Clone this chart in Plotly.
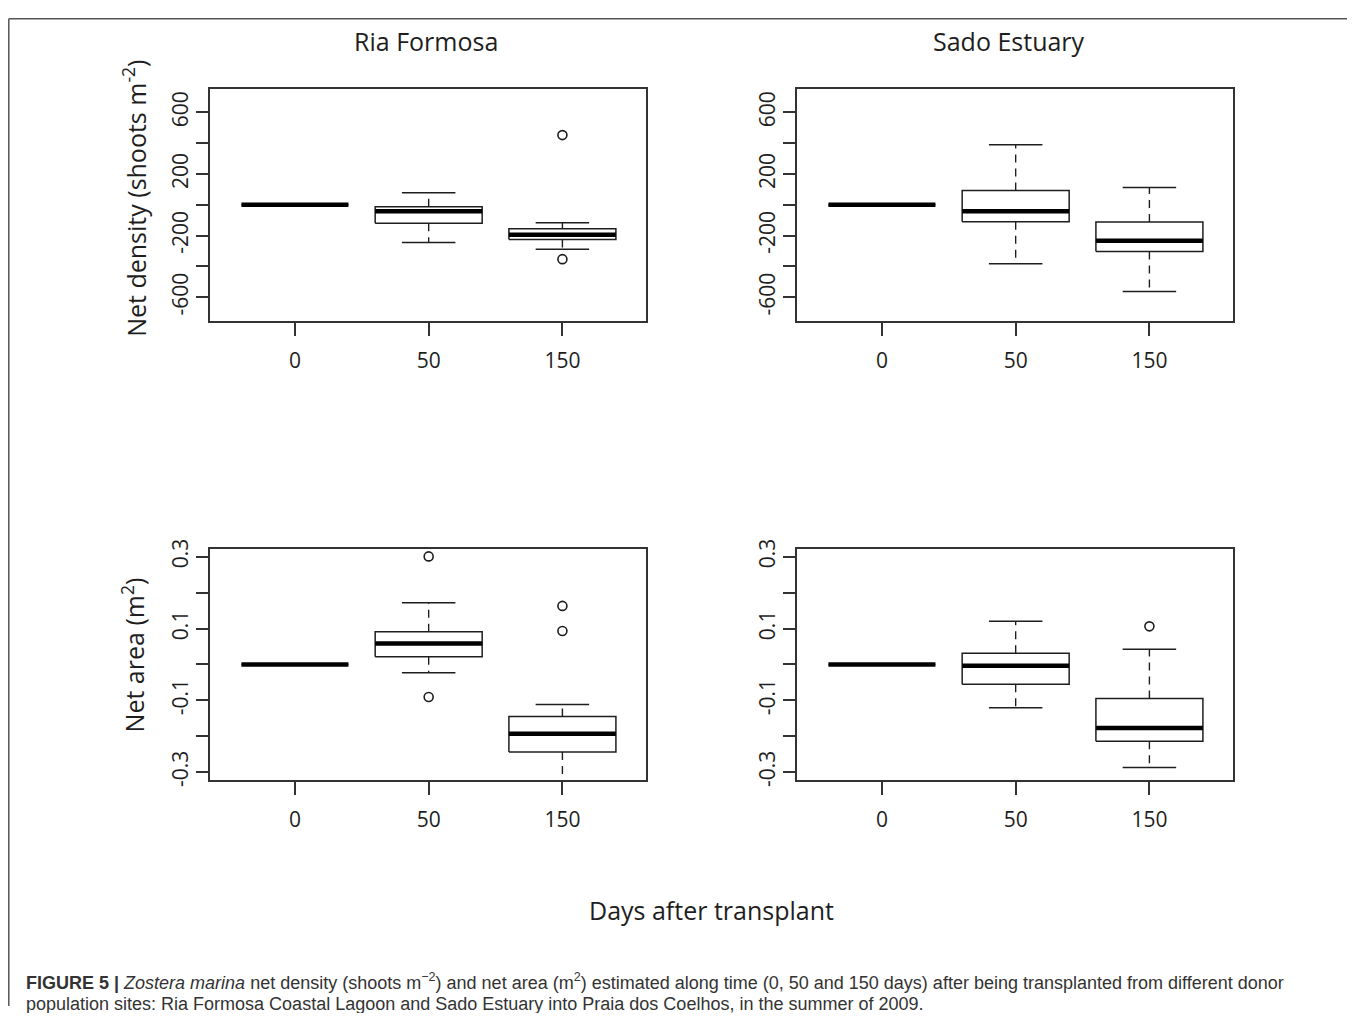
import plotly.graph_objects as go

# ---------------- data ----------------
days = ["0", "50", "150"]
positions = [1, 2, 3]

# Net density (shoots m-2) — Ria Formosa
rf_den_low = [0, -245, -288]
rf_den_q1 = [0, -119, -225]
rf_den_med = [0, -41, -195]
rf_den_q3 = [0, -13, -156]
rf_den_high = [0, 78, -117]
rf_den_out_x = [3, 3]
rf_den_out_y = [453, -353]

# Net density (shoots m-2) — Sado Estuary
se_den_low = [0, -383, -563]
se_den_q1 = [0, -110, -303]
se_den_med = [0, -41, -234]
se_den_q3 = [0, 93, -112]
se_den_high = [0, 390, 113]
se_den_out_x = []
se_den_out_y = []

# Net area (m2) — Ria Formosa
rf_area_low = [0, -0.023, -0.36]
rf_area_q1 = [0, 0.021, -0.244]
rf_area_med = [0, 0.058, -0.193]
rf_area_q3 = [0, 0.091, -0.145]
rf_area_high = [0, 0.172, -0.112]
rf_area_out_x = [2, 2, 3, 3]
rf_area_out_y = [0.301, -0.091, 0.163, 0.093]

# Net area (m2) — Sado Estuary
se_area_low = [0, -0.121, -0.287]
se_area_q1 = [0, -0.055, -0.214]
se_area_med = [0, -0.004, -0.177]
se_area_q3 = [0, 0.031, -0.095]
se_area_high = [0, 0.120, 0.042]
se_area_out_x = [3]
se_area_out_y = [0.106]

den_tickvals = [-600, -400, -200, 0, 200, 400, 600]
den_ticktext = ["-600", "", "-200", "", "200", "", "600"]
area_tickvals = [-0.3, -0.2, -0.1, 0, 0.1, 0.2, 0.3]
area_ticktext = ["-0.3", "", "-0.1", "", "0.1", "", "0.3"]

# ---------------- styling ----------------
INK = "#1e1e1e"
FRAME = "#333333"
FONT = "Open Sans"
PAGE_MARGIN = 8          # default body margin of the html page
W = 1355 - 2 * PAGE_MARGIN
H = 1021 - 2 * PAGE_MARGIN
Y_OFF = 17.0             # observed vertical offset of the figure in the page shot
Y_SCALE = 0.984          # observed vertical scale of the page shot
BOXHALF = 0.4
CAPHALF = 0.2


def px_x(p):
    return (p - PAGE_MARGIN) / W


def px_y(p):
    f = (p - Y_OFF) / Y_SCALE
    f = min(max(f, 0.8), H)
    return 1 - f / H


fig = go.Figure()


def add_panel(xa, ya, low, q1, med, q3, high, out_x, out_y):
    bx, by, mx, my, wx, wy, cx, cy = [], [], [], [], [], [], [], []
    for p, lo, a, m, b, hi in zip(positions, low, q1, med, q3, high):
        bx += [p - BOXHALF, p + BOXHALF, p + BOXHALF, p - BOXHALF, p - BOXHALF, None]
        by += [a, a, b, b, a, None]
        mx += [p - BOXHALF, p + BOXHALF, None]
        my += [m, m, None]
        if hi > b:
            wx += [p, p, None]
            wy += [b, hi, None]
        if lo < a:
            wx += [p, p, None]
            wy += [a, lo, None]
        cx += [p - CAPHALF, p + CAPHALF, None, p - CAPHALF, p + CAPHALF, None]
        cy += [hi, hi, None, lo, lo, None]
    common = dict(xaxis=xa, yaxis=ya, mode="lines", hoverinfo="skip", showlegend=False)
    fig.add_trace(go.Scatter(x=wx, y=wy, line=dict(color=INK, width=1.4, dash="8px,6px"), **common))
    fig.add_trace(go.Scatter(x=cx, y=cy, line=dict(color=INK, width=1.5), **common))
    fig.add_trace(go.Scatter(x=bx, y=by, fill="toself", fillcolor="white",
                             line=dict(color=INK, width=1.5), **common))
    fig.add_trace(go.Scatter(x=mx, y=my, line=dict(color="#000000", width=4.5), **common))
    if out_x:
        fig.add_trace(go.Scatter(x=out_x, y=out_y, xaxis=xa, yaxis=ya, mode="markers",
                                 marker=dict(symbol="circle-open", size=9, color=INK,
                                             line=dict(width=1.6, color=INK)),
                                 hoverinfo="skip", showlegend=False))


add_panel("x", "y", rf_den_low, rf_den_q1, rf_den_med, rf_den_q3, rf_den_high, rf_den_out_x, rf_den_out_y)
add_panel("x2", "y2", se_den_low, se_den_q1, se_den_med, se_den_q3, se_den_high, se_den_out_x, se_den_out_y)
add_panel("x3", "y3", rf_area_low, rf_area_q1, rf_area_med, rf_area_q3, rf_area_high, rf_area_out_x, rf_area_out_y)
add_panel("x4", "y4", se_area_low, se_area_q1, se_area_med, se_area_q3, se_area_high, se_area_out_x, se_area_out_y)

left_dom = [px_x(210), px_x(646)]
right_dom = [px_x(797), px_x(1233)]
top_dom = [px_y(320), px_y(88)]
bot_dom = [px_y(780), px_y(548)]

xcommon = dict(range=[0.365, 3.625], tickmode="array", tickvals=positions, ticktext=days,
               showline=True, mirror=True, linecolor=FRAME, linewidth=1.6,
               ticks="outside", ticklen=13, tickwidth=1.5, tickcolor=FRAME,
               showgrid=False, zeroline=False, ticklabelstandoff=7,
               tickfont=dict(family=FONT, size=21, color=INK), fixedrange=True)
ycommon = dict(showline=True, mirror=True, linecolor=FRAME, linewidth=1.6,
               ticks="outside", ticklen=12, tickwidth=1.5, tickcolor=FRAME,
               showgrid=False, zeroline=False, tickangle=-90, tickmode="array",
               tickfont=dict(family=FONT, size=21, color=INK), fixedrange=True)

fig.update_layout(
    width=W, height=H,
    margin=dict(l=0, r=0, t=0, b=0),
    paper_bgcolor="white", plot_bgcolor="white",
    xaxis=dict(domain=left_dom, anchor="y", **xcommon),
    yaxis=dict(domain=top_dom, anchor="x", range=[-753, 753], tickvals=den_tickvals,
               ticktext=den_ticktext, **ycommon),
    xaxis2=dict(domain=right_dom, anchor="y2", **xcommon),
    yaxis2=dict(domain=top_dom, anchor="x2", range=[-753, 753], tickvals=den_tickvals,
                ticktext=den_ticktext, **ycommon),
    xaxis3=dict(domain=left_dom, anchor="y3", **xcommon),
    yaxis3=dict(domain=bot_dom, anchor="x3", range=[-0.323, 0.323], tickvals=area_tickvals,
                ticktext=area_ticktext, **ycommon),
    xaxis4=dict(domain=right_dom, anchor="y4", **xcommon),
    yaxis4=dict(domain=bot_dom, anchor="x4", range=[-0.323, 0.323], tickvals=area_tickvals,
                ticktext=area_ticktext, **ycommon),
)

label_font = dict(family=FONT, size=25, color=INK)
caption_font = dict(family="Liberation Sans", size=18, color="#333333")
annotations = [
    dict(text="Ria Formosa", x=px_x(426), y=px_y(40), xref="paper", yref="paper",
         showarrow=False, font=label_font, xanchor="center", yanchor="middle"),
    dict(text="Sado Estuary", x=px_x(1009), y=px_y(40), xref="paper", yref="paper",
         showarrow=False, font=label_font, xanchor="center", yanchor="middle"),
    dict(text="Net density (shoots m<sup>-2</sup>)", x=px_x(135), y=px_y(198), xref="paper",
         yref="paper", showarrow=False, font=label_font, textangle=-90,
         xanchor="center", yanchor="middle"),
    dict(text="Net area (m<sup>2</sup>)", x=px_x(133), y=px_y(655), xref="paper", yref="paper",
         showarrow=False, font=label_font, textangle=-90, xanchor="center", yanchor="middle"),
    dict(text="Days after transplant", x=px_x(711), y=px_y(910), xref="paper", yref="paper",
         showarrow=False, font=label_font, xanchor="center", yanchor="middle"),
    dict(text="<b>FIGURE 5 |</b> <i>Zostera marina</i> net density (shoots m<sup>\u22122</sup>) and net area (m<sup>2</sup>) "
              "estimated along time (0, 50 and 150 days) after being transplanted from different donor",
         x=px_x(24), y=px_y(981), xref="paper", yref="paper", showarrow=False,
         font=caption_font, xanchor="left", yanchor="middle"),
    dict(text="population sites: Ria Formosa Coastal Lagoon and Sado Estuary into Praia dos Coelhos, in the summer of 2009.",
         x=px_x(24), y=px_y(1004), xref="paper", yref="paper", showarrow=False,
         font=caption_font, xanchor="left", yanchor="middle"),
]
fig.update_layout(annotations=annotations)

fig.update_layout(shapes=[
    dict(type="line", xref="paper", yref="paper", x0=px_x(8.8), x1=1, y0=px_y(8.8), y1=px_y(8.8),
         line=dict(color="#555555", width=1.5)),
    dict(type="line", xref="paper", yref="paper", x0=px_x(8.8), x1=px_x(8.8), y0=px_y(8.8), y1=0,
         line=dict(color="#555555", width=1.5)),
])

fig.write_html("out.html")
